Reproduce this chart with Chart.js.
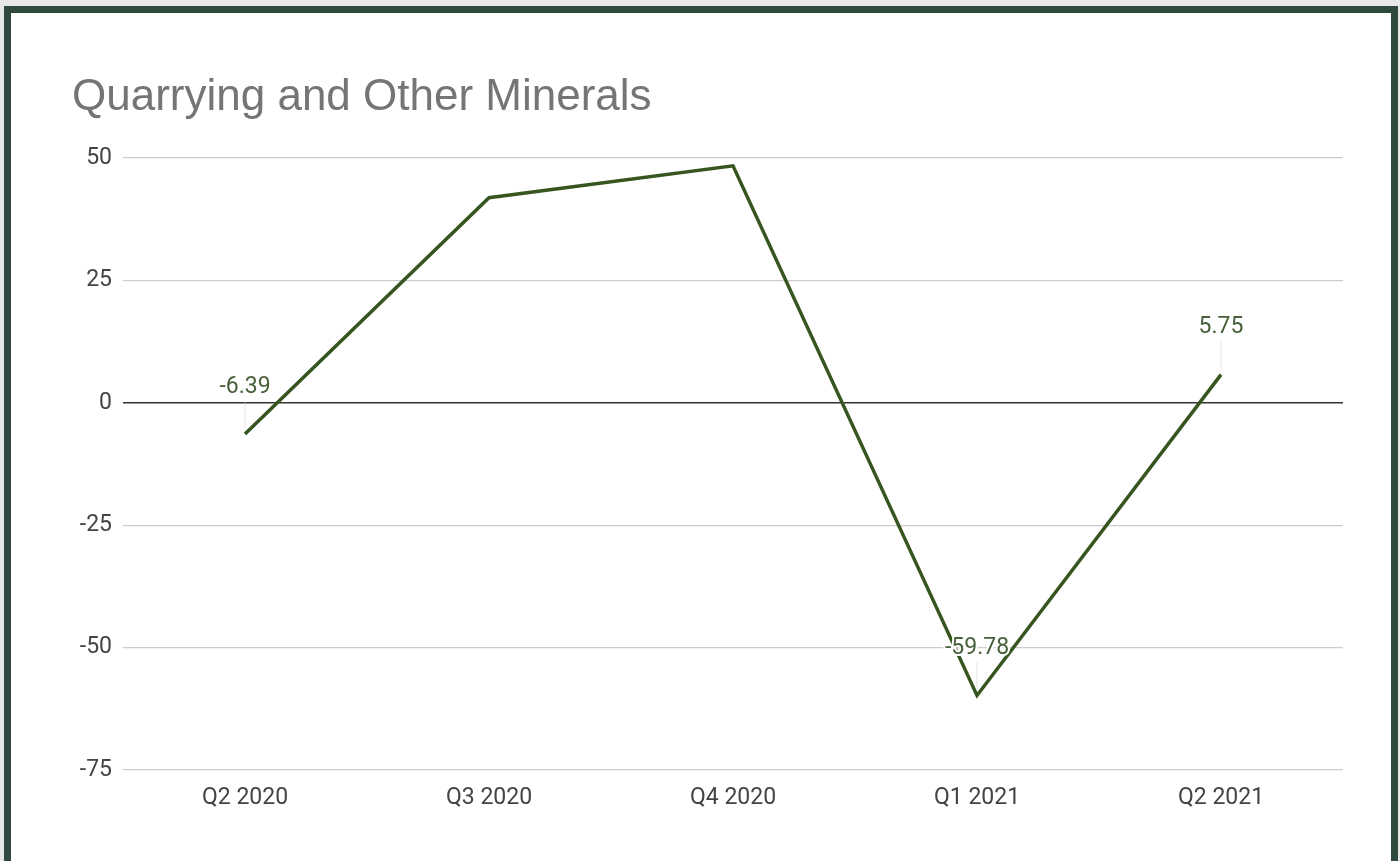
<!DOCTYPE html>
<html>
<head>
<meta charset="utf-8">
<script src="https://cdn.jsdelivr.net/npm/chart.js@4.4.1/dist/chart.umd.min.js"></script>
<style>
  html, body { margin: 0; padding: 0; width: 1400px; height: 861px; overflow: hidden; background: #e6e7e6; }
  #frame { position: absolute; left: 4px; top: 6px; width: 1380px; height: 900px; background: #ffffff;
           border-left: 7px solid #2f4a3c; border-right: 7px solid #2f4a3c; border-top: 7px solid #2f4a3c; }
  #wrap { position: absolute; left: 0; top: 0; width: 1400px; height: 861px; }
</style>
</head>
<body>
<div id="frame"></div>
<div id="wrap"><canvas id="c" width="1400" height="861"></canvas></div>
<script>
const chartTitle = 'Quarrying and Other Minerals';
const categories = ['Q2 2020', 'Q3 2020', 'Q4 2020', 'Q1 2021', 'Q2 2021'];
const values = [-6.39, 41.9, 48.4, -59.78, 5.75];
const showLabel = [true, false, false, true, true];
const yTicks = [-75, -50, -25, 0, 25, 50];

const titlePlugin = {
  id: 'sheetTitle',
  afterDraw(chart) {
    const ctx = chart.ctx;
    ctx.save();
    ctx.font = '44px "Liberation Sans", Arial, sans-serif';
    ctx.fillStyle = '#757575';
    ctx.textAlign = 'left';
    ctx.textBaseline = 'alphabetic';
    ctx.fillText(chartTitle, 72, 110);
    ctx.restore();
  }
};

const labelPlugin = {
  id: 'pointLabels',
  afterDatasetsDraw(chart) {
    const ctx = chart.ctx;
    const meta = chart.getDatasetMeta(0);
    ctx.save();
    ctx.font = '23px Roboto, sans-serif';
    ctx.textAlign = 'center';
    ctx.textBaseline = 'middle';
    meta.data.forEach((pt, i) => {
      if (!showLabel[i]) return;
      const txt = String(values[i]);
      const ly = pt.y - 47;
      ctx.strokeStyle = 'rgba(200,200,200,0.5)';
      ctx.lineWidth = 1;
      ctx.beginPath();
      ctx.moveTo(pt.x, ly + 14);
      ctx.lineTo(pt.x, pt.y - 6);
      ctx.stroke();
      ctx.lineWidth = 4;
      ctx.strokeStyle = '#ffffff';
      ctx.lineJoin = 'round';
      ctx.strokeText(txt, pt.x, ly);
      ctx.fillStyle = '#48603a';
      ctx.fillText(txt, pt.x, ly);
    });
    ctx.restore();
  }
};

new Chart(document.getElementById('c'), {
  type: 'line',
  data: {
    labels: categories,
    datasets: [{
      data: values,
      borderColor: '#37551f',
      borderWidth: 3.5,
      pointRadius: 0,
      tension: 0,
      fill: false
    }]
  },
  options: {
    responsive: false,
    animation: false,
    layout: { padding: { top: 158, right: 57, bottom: 0, left: 0 } },
    plugins: { legend: { display: false }, tooltip: { enabled: false }, title: { display: false } },
    scales: {
      x: {
        offset: true,
        grid: { display: false, drawTicks: false },
        border: { display: false },
        ticks: { font: { family: 'Roboto', size: 23 }, color: '#444444', padding: 14, maxRotation: 0 },
        afterFit(s) { s.height = 91; }
      },
      y: {
        min: -75, max: 50,
        afterBuildTicks(s) { s.ticks = yTicks.map(v => ({ value: v })); },
        grid: {
          drawTicks: false,
          color: (c) => c.tick && c.tick.value === 0 ? '#333333' : '#cccccc',
          lineWidth: (c) => c.tick && c.tick.value === 0 ? 1.6 : 1.2
        },
        border: { display: false },
        ticks: { font: { family: 'Roboto', size: 23 }, color: '#444444', padding: 11 },
        afterFit(s) { s.width = 123; }
      }
    }
  },
  plugins: [titlePlugin, labelPlugin]
});
</script>
</body>
</html>
